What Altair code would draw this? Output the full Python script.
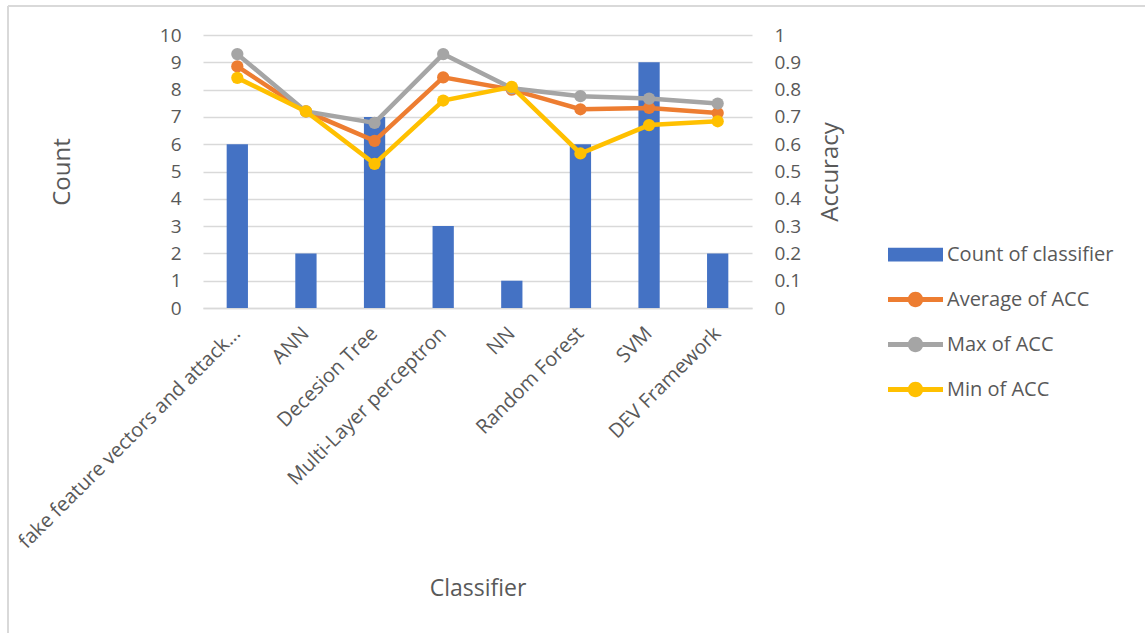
import altair as alt
import pandas as pd

# Classifiers on the x axis
classifiers = [
    "fake feature vectors and attack...",
    "ANN",
    "Decesion Tree",
    "Multi-Layer perceptron",
    "NN",
    "Random Forest",
    "SVM",
    "DEV Framework",
]

# Number of studies per classifier (left axis)
count_of_classifier = [6, 2, 7, 3, 1, 6, 9, 2]

# Accuracy statistics per classifier (right axis)
avg_acc = [0.885, 0.72, 0.612, 0.845, 0.80, 0.728, 0.733, 0.714]
max_acc = [0.93, 0.72, 0.678, 0.93, 0.805, 0.776, 0.767, 0.749]
min_acc = [0.843, 0.72, 0.528, 0.76, 0.81, 0.566, 0.67, 0.684]

series_names = ["Count of classifier", "Average of ACC", "Max of ACC", "Min of ACC"]
series_colors = ["#4472C4", "#ED7D31", "#A5A5A5", "#FFC000"]

# Legend glyphs: a wide block for the bars, a line with a dot for the lines
bar_glyph = "M-1,-0.25L1,-0.25L1,0.25L-1,0.25Z"
line_glyph = ("M-1,-0.09L1,-0.09L1,0.09L-1,0.09Z "
              "M0.28,0A0.28,0.28 0 1 1 -0.28,0A0.28,0.28 0 1 1 0.28,0Z")
series_glyphs = [bar_glyph, line_glyph, line_glyph, line_glyph]

FONT = "Open Sans"
TEXT = "#595959"
GRID = "#D9D9D9"

counts = pd.DataFrame({"Classifier": classifiers, "Count": count_of_classifier})

acc_rows = []
for name, vals in [("Average of ACC", avg_acc), ("Max of ACC", max_acc), ("Min of ACC", min_acc)]:
    for c, v in zip(classifiers, vals):
        acc_rows.append({"Classifier": c, "Series": name, "ACC": v})
acc = pd.DataFrame(acc_rows)

x_enc = alt.X(
    "Classifier:N",
    sort=classifiers,
    scale=alt.Scale(paddingInner=0, paddingOuter=0),
    axis=alt.Axis(
        title="Classifier",
        labelAngle=-45,
        labelAlign="right",
        labelBaseline="middle",
        labelLimit=500,
        labelPadding=22,
        labelFontSize=20,
        titleFontSize=23,
        titlePadding=69,
        ticks=False,
        domain=True,
        domainColor=GRID,
        domainWidth=1.3,
        grid=False,
    ),
)

bars = alt.Chart(counts).mark_bar(width=alt.RelativeBandSize(0.31), color=series_colors[0]).encode(
    x=x_enc,
    y=alt.Y(
        "Count:Q",
        scale=alt.Scale(domain=[0, 10], nice=False),
        axis=alt.Axis(
            title="Count",
            orient="left",
            values=list(range(0, 11)),
            labelPadding=22,
            labelFontSize=19,
            titleFontSize=24,
            titlePadding=85,
            grid=True,
            gridColor=GRID,
            gridWidth=1.3,
            ticks=False,
            domain=False,
        ),
    ),
)

acc_axis = alt.Axis(
    title="Accuracy",
    orient="right",
    values=[i / 10 for i in range(0, 11)],
    format=".1~f",
    labelPadding=22,
    labelFontSize=19,
    titleFontSize=24,
    titleAngle=270,
    titleBaseline="top",
    titlePadding=18,
    grid=False,
    ticks=False,
    domain=False,
)
acc_scale = alt.Scale(domain=[0, 1], nice=False)

line_layers = []
for i, name in enumerate(["Average of ACC", "Max of ACC", "Min of ACC"]):
    color = series_colors[i + 1]
    base = alt.Chart(acc).transform_filter(alt.datum.Series == name)
    y_enc = alt.Y("ACC:Q", scale=acc_scale, axis=acc_axis)
    line_layers.append(base.mark_line(color=color, strokeWidth=4.5).encode(x=x_enc, y=y_enc))
    line_layers.append(
        base.mark_point(filled=True, color=color, size=150, opacity=1, shape="circle").encode(x=x_enc, y=y_enc)
    )

acc_chart = alt.layer(*line_layers)

# Legend-only layer: no rows survive the filter, the domain keeps every entry
legend_layer = alt.Chart(acc).transform_filter("false").mark_point(filled=True, opacity=1).encode(
    x=x_enc,
    color=alt.Color(
        "Series:N",
        scale=alt.Scale(domain=series_names, range=series_colors),
        legend=alt.Legend(title=None),
    ),
    shape=alt.Shape(
        "Series:N",
        scale=alt.Scale(domain=series_names, range=series_glyphs),
        legend=alt.Legend(title=None),
    ),
)

# Light outer frame of the chart
frame_left = alt.Chart(counts).mark_rule(color=GRID, strokeWidth=1.5).encode(
    x=alt.value(-195), y=alt.value(-29), y2=alt.value(700)
)
frame_top = alt.Chart(counts).mark_rule(color=GRID, strokeWidth=1.5).encode(
    x=alt.value(-195), x2=alt.value(1000), y=alt.value(-29)
)

chart = (
    alt.layer(frame_left, frame_top, bars, acc_chart, legend_layer)
    .resolve_scale(y="independent")
    .properties(
        width=549,
        height=273,
        autosize=alt.AutoSizeParams(type="none"),
        padding={"left": 203, "top": 35, "right": 393, "bottom": 325},
        background="white",
    )
    .configure_view(stroke=None)
    .configure_axis(
        labelFont=FONT,
        titleFont=FONT,
        labelColor=TEXT,
        titleColor=TEXT,
        titleFontWeight="normal",
    )
    .configure_legend(
        orient="none",
        legendX=685,
        legendY=192,
        symbolSize=3025,
        symbolStrokeWidth=0,
        symbolOpacity=1,
        labelFont=FONT,
        labelFontSize=20,
        labelLimit=400,
        labelColor=TEXT,
        labelOffset=4,
        rowPadding=7,
        padding=0,
    )
)

chart.save("out.html", embed_options={"renderer": "svg", "actions": False})
